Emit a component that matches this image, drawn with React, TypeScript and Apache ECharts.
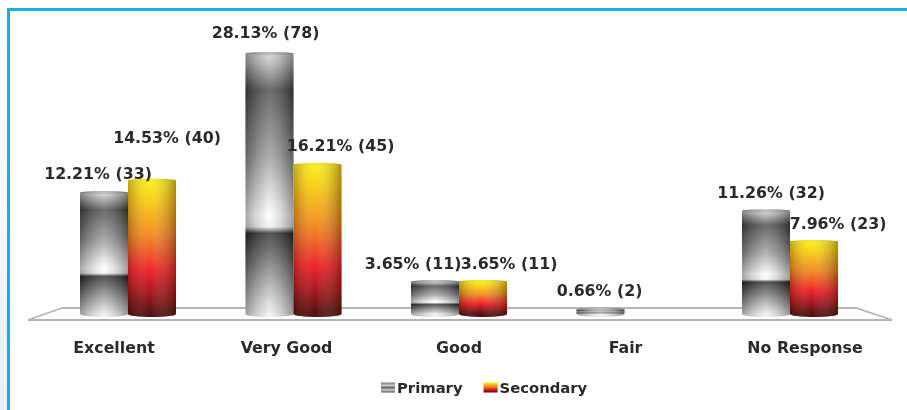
import React, { useEffect, useRef } from "react";
import * as echarts from "echarts";

const categories = ["Excellent", "Very Good", "Good", "Fair", "No Response"];
const primaryValues = [13.2, 28.13, 3.65, 0.66, 11.26];
const secondaryValues = [14.53, 16.21, 3.65, 0, 7.96];
const primaryLabels = ["12.21% (33)", "28.13% (78)", "3.65% (11)", "0.66% (2)", "11.26% (32)"];
const secondaryLabels = ["14.53% (40)", "16.21% (45)", "3.65% (11)", "", "7.96% (23)"];

// Label placement relative to each bar's centre and top
const primaryLabelDx = [-6, -4, -22, -1, 5];
const primaryLabelDy = [-18, -20, -17, -17, -17];
const secondaryLabelDx = [15, 23, 26, 0, 24];
const secondaryLabelDy = [-41, -18, -17, 0, -16];

// Rich-text style per category: the tick labels sit off-centre because of the 3D perspective
const categoryStyleKeys = ["a", "b", "c", "d", "e"];

const FONT = '"DejaVu Sans", sans-serif';
const TEXT = "#2a2a2a";
const BAR_W = 48;

const v = (stops: [number, string][]) =>
  new echarts.graphic.LinearGradient(0, 0, 0, 1, stops.map(([offset, color]) => ({ offset, color })));
const h = (stops: [number, string][]) =>
  new echarts.graphic.LinearGradient(0, 0, 1, 0, stops.map(([offset, color]) => ({ offset, color })));

const primaryStops: [number, string][] = [
  [0, "#cfcfcf"], [0.03, "#bdbdbd"], [0.14, "#484848"], [0.4, "#9a9a9a"], [0.62, "#ffffff"],
  [0.665, "#f2f2f2"], [0.69, "#2a2a2a"], [1, "#f0f0f0"],
];
const secondaryStops: [number, string][] = [
  [0, "#f8ee1c"], [0.1, "#fbd90f"], [0.4, "#f28c1c"], [0.68, "#ee1c25"], [0.85, "#9e1016"], [1, "#4a0808"],
];
const primaryShade: [number, string][] = [
  [0, "rgba(0,0,0,0.34)"], [0.5, "rgba(255,255,255,0.2)"], [1, "rgba(0,0,0,0.38)"],
];
const secondaryShade: [number, string][] = [
  [0, "rgba(60,20,0,0.32)"], [0.45, "rgba(255,255,255,0.03)"], [1, "rgba(60,20,0,0.42)"],
];

function cylinder(
  offset: number, stops: [number, string][], shade: [number, string][], cap: string,
  labels: string[], dxs: number[], dys: number[],
) {
  return (params: any, api: any) => {
    const i = params.dataIndex;
    const val = api.value(1);
    if (!val) return { type: "group", children: [] };
    const [cx0, top] = api.coord([api.value(0), val]);
    const [, base] = api.coord([api.value(0), 0]);
    const cx = cx0 + offset;
    const x = cx - BAR_W / 2;
    const ry = 1.5;
    const shape = { x, y: top + ry, width: BAR_W, height: base - top - ry };
    return {
      type: "group",
      children: [
        { type: "ellipse", shape: { cx, cy: base, rx: BAR_W / 2, ry: 3 }, style: { fill: stops[stops.length - 1][1] } },
        { type: "ellipse", shape: { cx, cy: base, rx: BAR_W / 2, ry: 3 }, style: { fill: h(shade) } },
        { type: "rect", shape, style: { fill: v(stops) } },
        { type: "rect", shape, style: { fill: h(shade) } },
        { type: "ellipse", shape: { cx, cy: top + ry, rx: BAR_W / 2, ry }, style: { fill: cap } },
        { type: "ellipse", shape: { cx, cy: top + ry, rx: BAR_W / 2, ry }, style: { fill: h(shade) } },
        {
          type: "text", z2: 100, x: cx + dxs[i], y: top + dys[i],
          style: {
            text: labels[i], fill: TEXT, align: "center", verticalAlign: "middle",
            font: `bold 15.8px ${FONT}`,
          },
        },
      ],
    };
  };
}

export default function App() {
  const ref = useRef<HTMLDivElement>(null);
  useEffect(() => {
    const chart = echarts.init(ref.current!, undefined, { renderer: "svg" });
    const labelToken = { fontFamily: FONT, fontWeight: "bold", fontSize: 15.8, color: TEXT };
    chart.setOption({
      animation: false,
      backgroundColor: "#ffffff",
      grid: { left: 45.25, width: 827.5, top: 34.7, height: 279.3 },
      xAxis: {
        type: "category",
        data: categories,
        axisLine: { show: false },
        axisTick: { show: false },
        axisLabel: {
          margin: 25,
          formatter: (value: string, index: number) => `{${categoryStyleKeys[index]}|${value}}`,
          rich: {
            a: { ...labelToken, padding: [0, 28, 0, 0] },
            b: { ...labelToken, padding: [0, 14, 0, 0] },
            c: { ...labelToken },
            d: { ...labelToken, padding: [0, 0, 0, 2] },
            e: { ...labelToken, padding: [0, 0, 0, 30] },
          },
        },
      },
      yAxis: { type: "value", min: 0, max: 30, show: false },
      legend: {
        top: 375,
        left: 376,
        icon: "rect",
        itemWidth: 14,
        itemHeight: 10,
        itemGap: 21,
        selectedMode: false,
        textStyle: { fontFamily: FONT, fontWeight: "bold", fontSize: 14.8, color: TEXT, padding: [0, 0, 0, -3] },
        data: [
          { name: "Primary", itemStyle: { color: v([[0, "#777"], [0.3, "#ccc"], [0.5, "#666"], [0.75, "#ccc"], [1, "#555"]]) } },
          { name: "Secondary", itemStyle: { color: v(secondaryStops) } },
        ],
      },
      graphic: [
        {
          type: "rect", z: 0, shape: { x: 0, y: 0, width: 7, height: 410 },
          style: { fill: v([[0, "#ffffff"], [0.5, "#f6fafd"], [1, "#e6f1f8"]]) },
        },
        { type: "rect", z: 0, shape: { x: 7, y: 8, width: 900, height: 3 }, style: { fill: "#0fb0ee" } },
        { type: "rect", z: 0, shape: { x: 7, y: 8, width: 3, height: 402 }, style: { fill: "#0fb0ee" } },
        {
          type: "polygon", z: 0,
          shape: { points: [[62, 308], [28, 320], [892, 320], [856, 308]] },
          style: { fill: "#ffffff", stroke: "#b4b4b4", lineWidth: 1.8 },
        },
      ],
      series: [
        {
          name: "Primary", type: "custom", z: 2, clip: false,
          encode: { x: 0, y: 1 },
          data: categories.map((_, i) => [i, primaryValues[i]]),
          renderItem: cylinder(-BAR_W / 2, primaryStops, primaryShade, "#b0b0b0", primaryLabels, primaryLabelDx, primaryLabelDy),
        },
        {
          name: "Secondary", type: "custom", z: 2, clip: false,
          encode: { x: 0, y: 1 },
          data: categories.map((_, i) => [i, secondaryValues[i]]),
          renderItem: cylinder(BAR_W / 2, secondaryStops, secondaryShade, "#f4e81a", secondaryLabels, secondaryLabelDx, secondaryLabelDy),
        },
      ],
    });
    return () => chart.dispose();
  }, []);
  return (
    <div
      ref={ref}
      style={{ position: "fixed", left: 0, top: 0, width: 907, height: 410, filter: "blur(0.5px)" }}
    />
  );
}
